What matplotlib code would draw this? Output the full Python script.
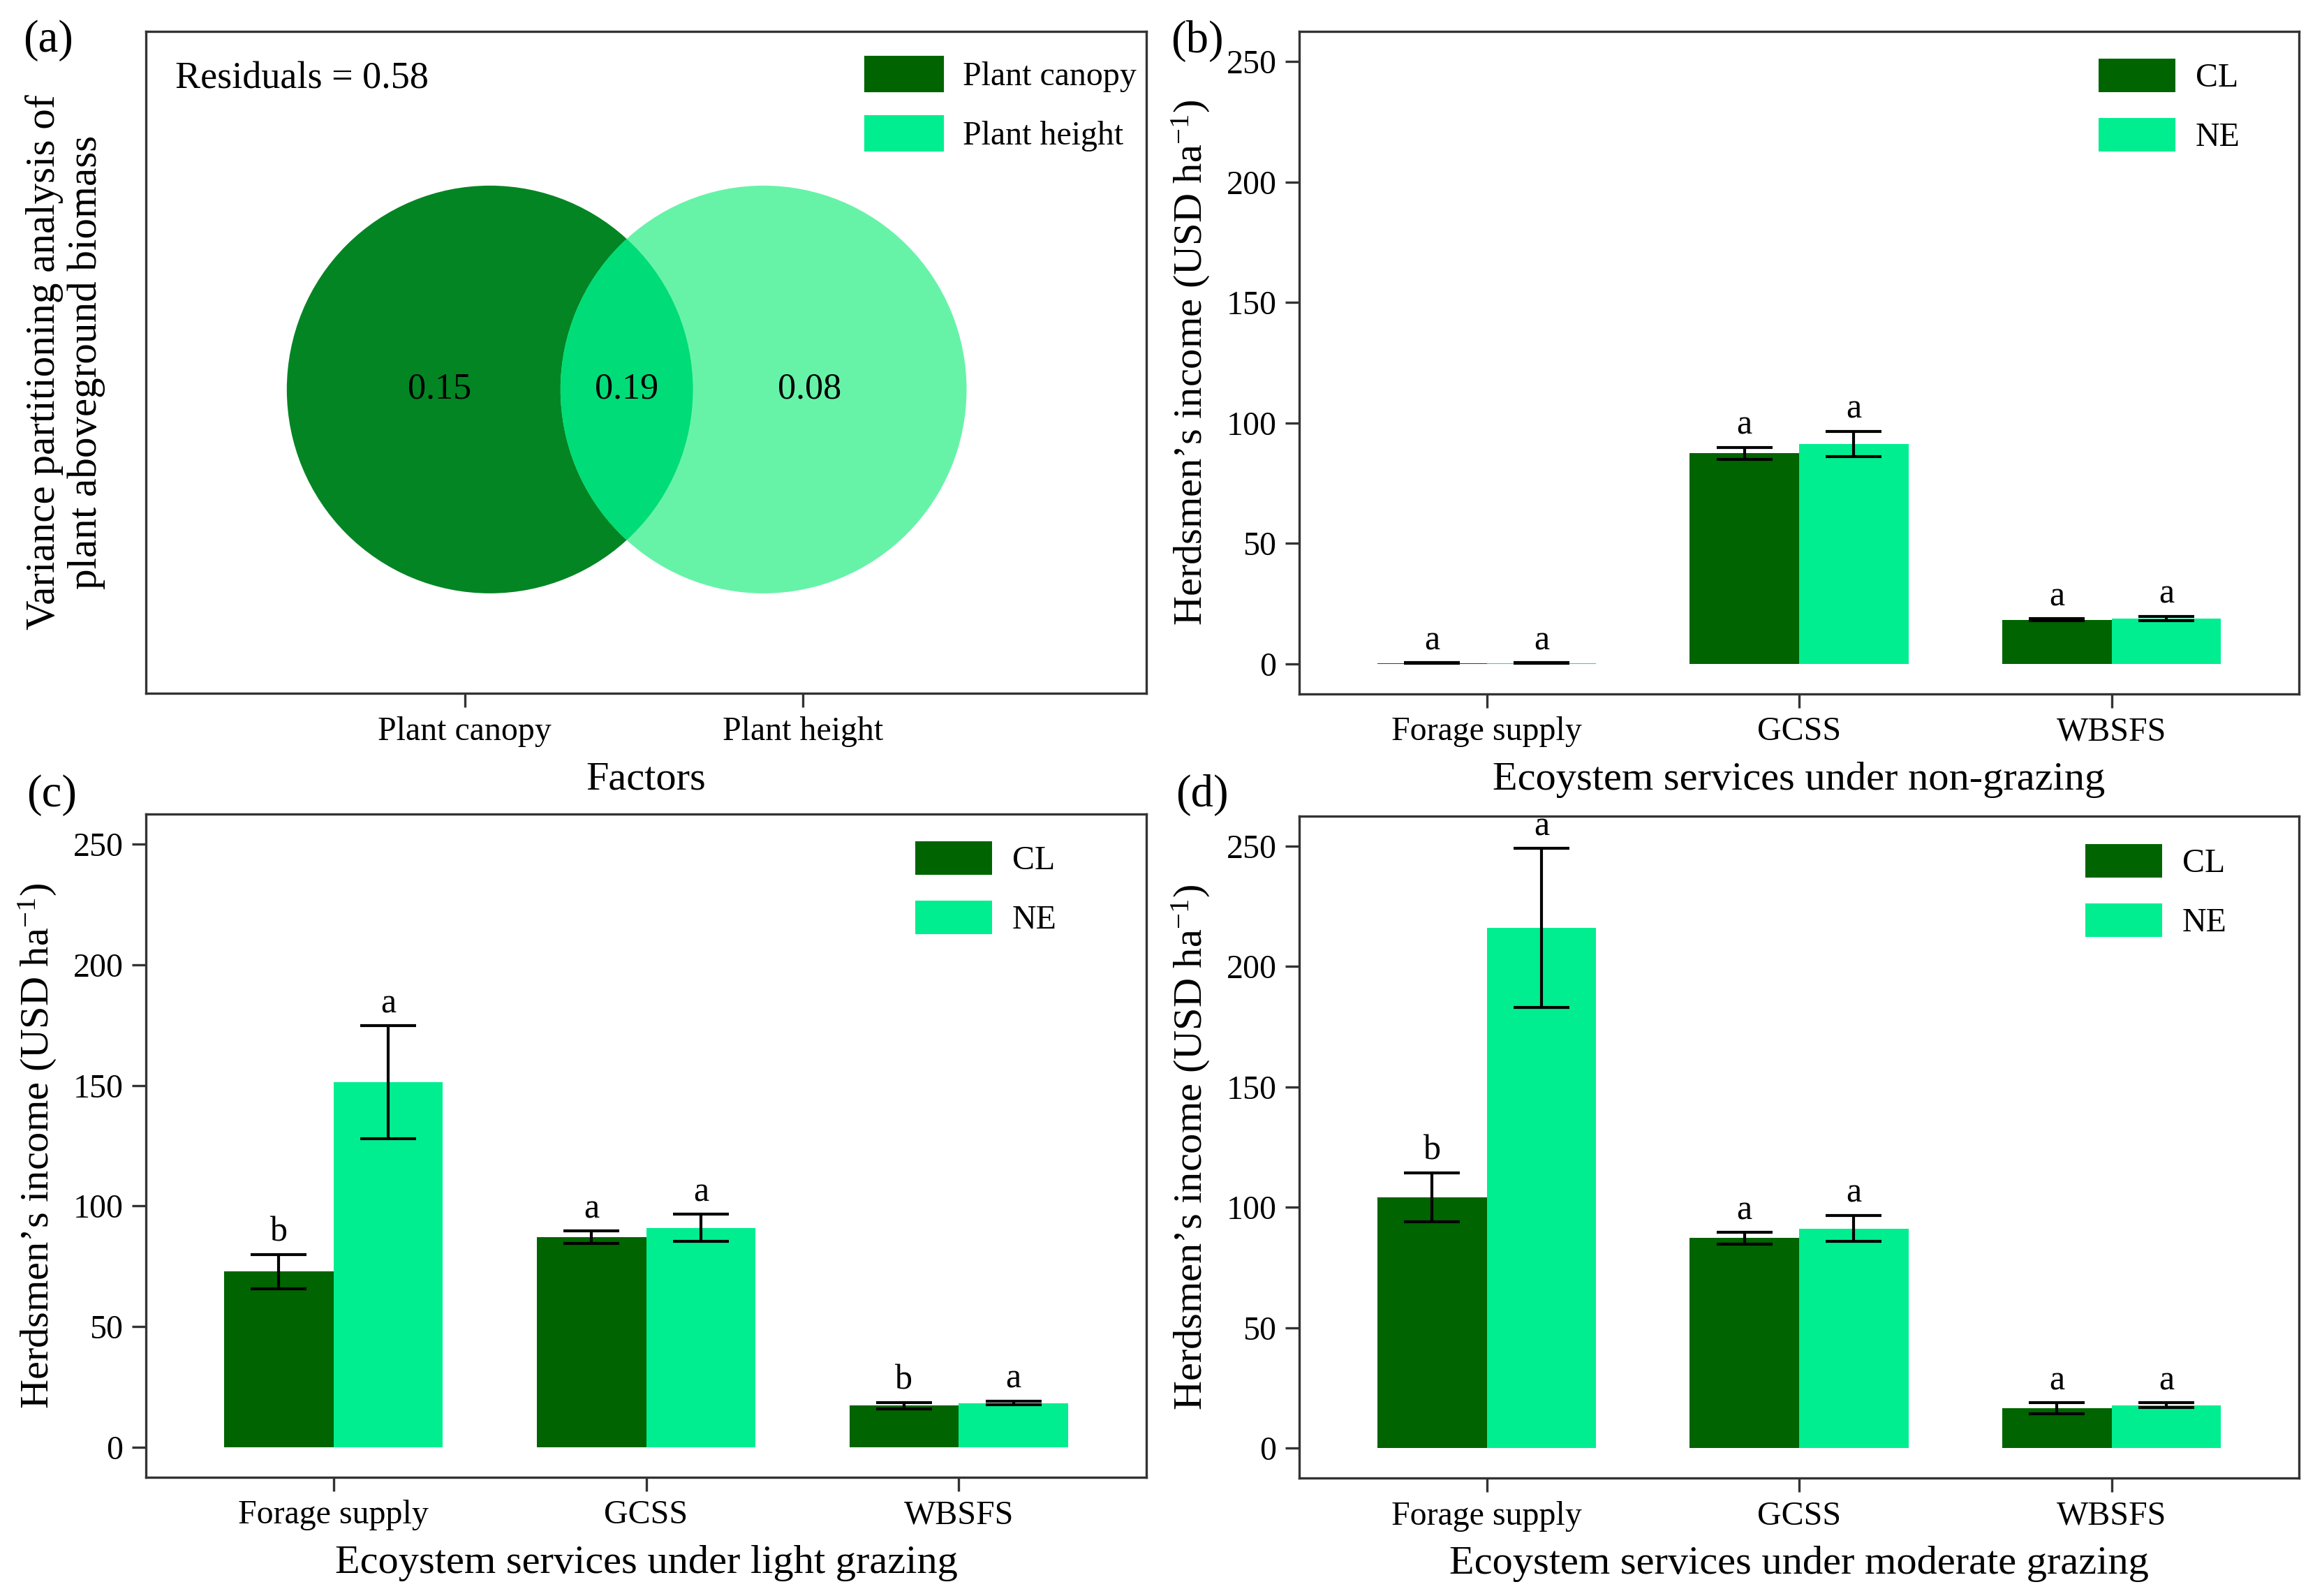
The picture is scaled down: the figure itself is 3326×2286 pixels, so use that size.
import numpy as np
import matplotlib
matplotlib.use("Agg")
import matplotlib.pyplot as plt
from matplotlib.patches import Ellipse

plt.rcParams['font.family'] = ['Liberation Serif', 'DejaVu Serif']
plt.rcParams['mathtext.fontset'] = 'custom'
plt.rcParams['mathtext.rm'] = 'Liberation Serif'
plt.rcParams['mathtext.it'] = 'Liberation Serif:italic'

# ---------------- data ----------------
venn_factors = ["Plant canopy", "Plant height"]
venn_unique_canopy = 0.15
venn_shared = 0.19
venn_unique_height = 0.08
venn_residuals = 0.58

services = ["Forage supply", "GCSS", "WBSFS"]
groups = ["CL", "NE"]

ng_cl = [0.3, 87.4, 18.3]
ng_cl_se = [0.1, 2.4, 0.5]
ng_ne = [0.3, 91.2, 18.9]
ng_ne_se = [0.1, 5.3, 0.9]
ng_letters_cl = ["a", "a", "a"]
ng_letters_ne = ["a", "a", "a"]

lg_cl = [72.8, 87.1, 17.2]
lg_cl_se = [7.1, 2.5, 1.4]
lg_ne = [151.3, 90.9, 18.3]
lg_ne_se = [23.4, 5.6, 0.8]
lg_letters_cl = ["b", "a", "b"]
lg_letters_ne = ["a", "a", "a"]

mg_cl = [104.2, 87.2, 16.4]
mg_cl_se = [10.2, 2.4, 2.3]
mg_ne = [216.0, 91.2, 17.8]
mg_ne_se = [33.1, 5.4, 1.0]
mg_letters_cl = ["b", "a", "a"]
mg_letters_ne = ["a", "a", "a"]

# ---------------- styles ----------------
CL_COLOR = "#006400"
NE_COLOR = "#00EE90"
V_LEFT = "#038523"
V_RIGHT = "#66F3A8"
V_OVER = "#00DC78"
SPINE = "#333333"

W, H = 3326, 2286
DPI = 300
fig = plt.figure(figsize=(W / DPI, H / DPI), dpi=DPI)


def px_axes(x0, y0, x1, y1):
    return fig.add_axes([x0 / W, 1 - y1 / H, (x1 - x0) / W, (y1 - y0) / H])


def style_axes(ax):
    for s in ax.spines.values():
        s.set_color(SPINE)
        s.set_linewidth(0.8)
    ax.tick_params(axis='both', which='major', length=4.8, width=0.8,
                   color=SPINE, labelsize=11.5, pad=3, labelcolor='black')


def legend(ax, handles, labels, x, y):
    ax.legend(handles, labels, loc='upper left', bbox_to_anchor=(x, y),
              frameon=False, fontsize=11.5, handlelength=2.3,
              handleheight=1.17, labelspacing=0.72, handletextpad=0.6,
              borderpad=0, borderaxespad=0)


# ---------------- (a) Venn ----------------
axa = px_axes(209, 45, 1642, 993)
style_axes(axa)
axa.set_xlim(0.056, 3.017)
axa.set_ylim(0, 1)
rx, ry = 0.601, 0.308
cy = 0.459
cx_left, cx_right = 1.074, 1.884
left = Ellipse((cx_left, cy), 2 * rx, 2 * ry, facecolor=V_LEFT, edgecolor='none')
right = Ellipse((cx_right, cy), 2 * rx, 2 * ry, facecolor=V_RIGHT, edgecolor='none')
over = Ellipse((cx_right, cy), 2 * rx, 2 * ry, facecolor=V_OVER, edgecolor='none')
axa.add_patch(left)
axa.add_patch(right)
axa.add_patch(over)
over.set_clip_path(left)
axa.text(0.926, cy, f"{venn_unique_canopy:.2f}", ha='center', va='center', fontsize=12.5)
axa.text((cx_left + cx_right) / 2, cy, f"{venn_shared:.2f}", ha='center', va='center', fontsize=12.5)
axa.text(2.02, cy, f"{venn_unique_height:.2f}", ha='center', va='center', fontsize=12.5)
axa.text(0.029, 0.928, f"Residuals = {venn_residuals:.2f}", transform=axa.transAxes,
         ha='left', va='center', fontsize=13)
axa.set_xticks([1, 2])
axa.set_xticklabels(venn_factors)
axa.set_yticks([])
axa.set_xlabel("Factors", fontsize=14, labelpad=5)
axa.set_ylabel("Variance partitioning analysis of\nplant aboveground biomass",
               fontsize=14.2, labelpad=14, linespacing=1.12)
h1 = plt.Rectangle((0, 0), 1, 1, color=CL_COLOR)
h2 = plt.Rectangle((0, 0), 1, 1, color=NE_COLOR)
legend(axa, [h1, h2], venn_factors, 0.7195, 0.961)


# ---------------- bar panels ----------------
def bar_panel(ax, cl, cl_se, ne, ne_se, let_cl, let_ne, xlabel, lx, ly):
    style_axes(ax)
    x = np.arange(1, len(services) + 1)
    w = 0.35
    b1 = ax.bar(x - w / 2, cl, width=w, color=CL_COLOR, label=groups[0])
    b2 = ax.bar(x + w / 2, ne, width=w, color=NE_COLOR, label=groups[1])
    ax.errorbar(x - w / 2, cl, yerr=cl_se, fmt='none', ecolor='black',
                elinewidth=1.0, capsize=9.5, capthick=1.0)
    ax.errorbar(x + w / 2, ne, yerr=ne_se, fmt='none', ecolor='black',
                elinewidth=1.0, capsize=9.5, capthick=1.0)
    for xi, m, s, t in zip(x - w / 2, cl, cl_se, let_cl):
        ax.text(xi, m + s + 5.5, t, ha='center', va='baseline', fontsize=12)
    for xi, m, s, t in zip(x + w / 2, ne, ne_se, let_ne):
        ax.text(xi, m + s + 5.5, t, ha='center', va='baseline', fontsize=12)
    ax.set_xlim(0.4, 3.6)
    ax.set_ylim(-12.5, 262.5)
    ax.set_yticks([0, 50, 100, 150, 200, 250])
    ax.set_xticks(x)
    ax.set_xticklabels(services)
    ax.set_xlabel(xlabel, fontsize=14, labelpad=5)
    ax.set_ylabel("Herdsmen\u2019s income (USD ha$^{-1}$)", fontsize=14, labelpad=5)
    legend(ax, [b1, b2], groups, lx, ly)


axb = px_axes(1861, 45, 3293, 994)
bar_panel(axb, ng_cl, ng_cl_se, ng_ne, ng_ne_se, ng_letters_cl, ng_letters_ne,
          "Ecoystem services under non-grazing", 0.7996, 0.959)

axc = px_axes(209, 1166, 1642, 2116)
bar_panel(axc, lg_cl, lg_cl_se, lg_ne, lg_ne_se, lg_letters_cl, lg_letters_ne,
          "Ecoystem services under light grazing", 0.769, 0.959)

axd = px_axes(1861, 1169, 3293, 2117)
bar_panel(axd, mg_cl, mg_cl_se, mg_ne, mg_ne_se, mg_letters_cl, mg_letters_ne,
          "Ecoystem services under moderate grazing", 0.786, 0.958)

# panel labels
for lab, (px, py) in zip(["(a)", "(b)", "(c)", "(d)"],
                         [(69, 58), (1715, 59), (74, 1139), (1722, 1139)]):
    fig.text(px / W, 1 - py / H, lab, ha='center', va='center', fontsize=15.5)

fig.savefig("out.png", dpi=DPI)
